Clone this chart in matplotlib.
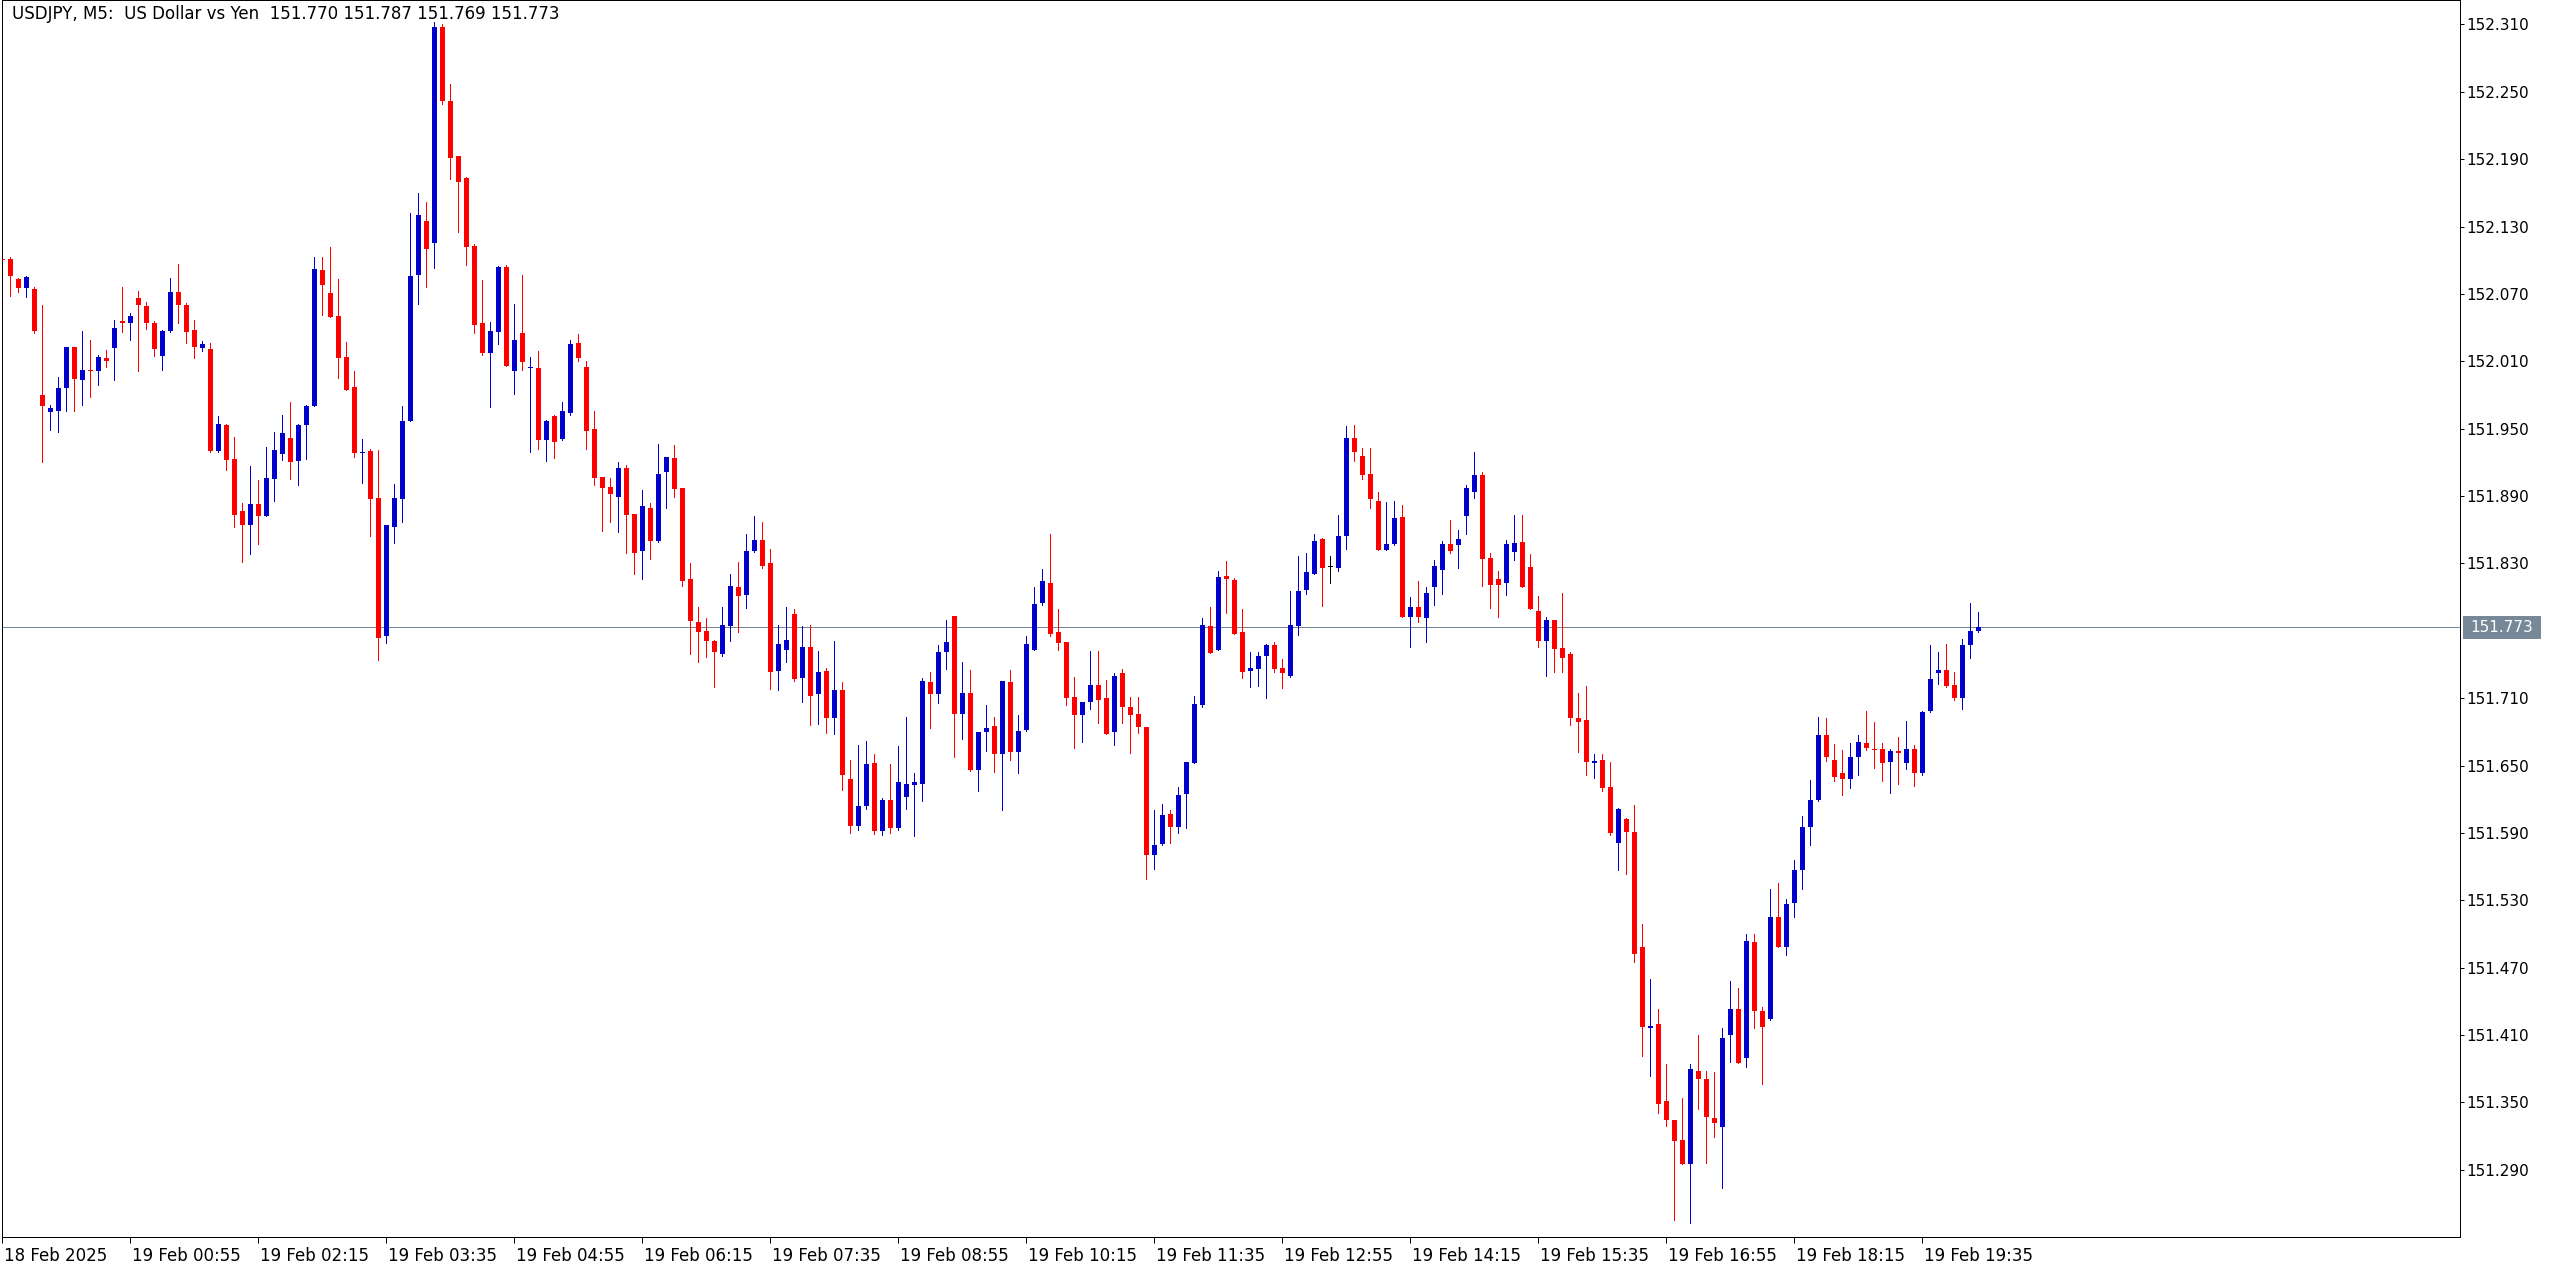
import numpy as np
import pandas as pd
import matplotlib
matplotlib.use("Agg")
import matplotlib.pyplot as plt
from matplotlib.transforms import offset_copy
from matplotlib.patches import Rectangle

title_text = "USDJPY, M5:  US Dollar vs Yen  151.770 151.787 151.769 151.773"
start_time = "2025-02-18 23:35"

opens = [
    152.101, 152.101, 152.083, 152.075, 152.074, 151.980, 151.965, 151.966, 151.986, 152.023,
    151.993, 152.002, 152.001, 152.013, 152.022, 152.046, 152.044, 152.066, 152.059, 152.044,
    152.015, 152.037, 152.072, 152.060, 152.038, 152.022, 152.021, 151.930, 151.953, 151.923,
    151.877, 151.864, 151.883, 151.872, 151.905, 151.927, 151.942, 151.921, 151.953, 151.970,
    152.091, 152.071, 152.050, 152.014, 151.987, 151.928, 151.930, 151.888, 151.765, 151.862,
    151.887, 151.957, 152.087, 152.135, 152.115, 152.308, 152.242, 152.193, 152.173, 152.113,
    152.044, 152.017, 152.036, 152.094, 152.001, 152.035, 152.004, 152.004, 151.940, 151.961,
    151.941, 151.964, 152.026, 152.005, 151.950, 151.907, 151.898, 151.889, 151.915, 151.874,
    151.841, 151.879, 151.850, 151.911, 151.924, 151.897, 151.816, 151.778, 151.770, 151.761,
    151.749, 151.774, 151.809, 151.802, 151.841, 151.851, 151.830, 151.734, 151.753, 151.785,
    151.728, 151.756, 151.714, 151.734, 151.692, 151.717, 151.638, 151.596, 151.614, 151.652,
    151.592, 151.619, 151.594, 151.622, 151.633, 151.634, 151.724, 151.714, 151.751, 151.783,
    151.696, 151.715, 151.646, 151.680, 151.685, 151.660, 151.724, 151.662, 151.682, 151.753,
    151.795, 151.813, 151.769, 151.760, 151.711, 151.695, 151.707, 151.722, 151.710, 151.680,
    151.732, 151.702, 151.696, 151.684, 151.570, 151.580, 151.607, 151.595, 151.625, 151.652,
    151.704, 151.774, 151.753, 151.819, 151.815, 151.769, 151.734, 151.736, 151.748, 151.757,
    151.737, 151.730, 151.774, 151.806, 151.821, 151.852, 151.827, 151.826, 151.854, 151.942,
    151.926, 151.910, 151.886, 151.842, 151.847, 151.871, 151.782, 151.791, 151.781, 151.809,
    151.824, 151.847, 151.846, 151.872, 151.894, 151.909, 151.835, 151.816, 151.813, 151.840,
    151.849, 151.827, 151.788, 151.761, 151.780, 151.755, 151.749, 151.692, 151.691, 151.652,
    151.655, 151.631, 151.581, 151.602, 151.591, 151.488, 151.416, 151.420, 151.351, 151.334,
    151.317, 151.295, 151.378, 151.371, 151.336, 151.328, 151.410, 151.433, 151.390, 151.493,
    151.431, 151.424, 151.515, 151.488, 151.528, 151.557, 151.595, 151.619, 151.677, 151.655,
    151.643, 151.638, 151.658, 151.670, 151.665, 151.665, 151.653, 151.663, 151.652, 151.665,
    151.643, 151.699, 151.732, 151.735, 151.722, 151.710, 151.757, 151.770,
]
highs = [
    152.103, 152.103, 152.084, 152.086, 152.076, 152.060, 151.971, 151.996, 152.023, 152.023,
    152.037, 152.029, 152.016, 152.020, 152.047, 152.076, 152.053, 152.073, 152.063, 152.046,
    152.038, 152.084, 152.097, 152.062, 152.047, 152.028, 152.026, 151.961, 151.954, 151.943,
    151.884, 151.917, 151.904, 151.934, 151.947, 151.962, 151.974, 151.954, 151.971, 152.103,
    152.103, 152.112, 152.083, 152.027, 152.001, 151.941, 151.932, 151.931, 151.864, 151.901,
    151.970, 152.142, 152.160, 152.152, 152.312, 152.310, 152.257, 152.193, 152.174, 152.114,
    152.082, 152.045, 152.095, 152.096, 152.061, 152.087, 152.014, 152.019, 151.958, 151.962,
    151.974, 152.029, 152.034, 152.010, 151.966, 151.907, 151.906, 151.920, 151.918, 151.874,
    151.895, 151.884, 151.936, 151.925, 151.935, 151.897, 151.830, 151.791, 151.781, 151.762,
    151.791, 151.821, 151.831, 151.856, 151.872, 151.867, 151.843, 151.775, 151.791, 151.789,
    151.774, 151.775, 151.752, 151.737, 151.761, 151.724, 151.655, 151.668, 151.672, 151.660,
    151.621, 151.651, 151.667, 151.693, 151.643, 151.728, 151.733, 151.757, 151.780, 151.783,
    151.742, 151.735, 151.680, 151.704, 151.693, 151.725, 151.735, 151.695, 151.765, 151.809,
    151.825, 151.856, 151.789, 151.760, 151.729, 151.707, 151.752, 151.752, 151.726, 151.732,
    151.736, 151.711, 151.711, 151.684, 151.610, 151.616, 151.610, 151.631, 151.653, 151.712,
    151.781, 151.791, 151.823, 151.832, 151.817, 151.789, 151.751, 151.751, 151.758, 151.760,
    151.745, 151.805, 151.837, 151.839, 151.856, 151.853, 151.837, 151.873, 151.952, 151.953,
    151.933, 151.933, 151.894, 151.885, 151.886, 151.882, 151.800, 151.814, 151.809, 151.833,
    151.850, 151.869, 151.860, 151.900, 151.929, 151.911, 151.839, 151.823, 151.851, 151.873,
    151.873, 151.838, 151.801, 151.782, 151.780, 151.804, 151.751, 151.715, 151.721, 151.660,
    151.660, 151.653, 151.612, 151.603, 151.615, 151.509, 151.460, 151.433, 151.384, 151.334,
    151.354, 151.384, 151.410, 151.378, 151.377, 151.416, 151.458, 151.452, 151.500, 151.500,
    151.435, 151.540, 151.545, 151.531, 151.566, 151.605, 151.637, 151.693, 151.692, 151.669,
    151.664, 151.670, 151.677, 151.699, 151.689, 151.670, 151.665, 151.675, 151.690, 151.668,
    151.699, 151.757, 151.751, 151.758, 151.733, 151.763, 151.795, 151.787,
]
lows = [
    152.099, 152.068, 152.072, 152.067, 152.035, 151.920, 151.949, 151.947, 151.966, 151.966,
    151.971, 151.978, 151.989, 152.005, 151.993, 152.036, 152.029, 152.001, 152.039, 152.015,
    152.002, 152.036, 152.044, 152.026, 152.013, 152.019, 151.929, 151.929, 151.913, 151.862,
    151.831, 151.838, 151.847, 151.872, 151.886, 151.922, 151.905, 151.900, 151.923, 151.970,
    152.051, 152.049, 151.995, 151.984, 151.925, 151.902, 151.854, 151.744, 151.759, 151.848,
    151.867, 151.957, 152.061, 152.076, 152.093, 152.239, 152.172, 152.125, 152.096, 152.035,
    152.016, 151.969, 152.025, 152.006, 151.981, 152.002, 151.929, 151.932, 151.921, 151.924,
    151.940, 151.962, 152.010, 151.932, 151.900, 151.859, 151.867, 151.858, 151.839, 151.821,
    151.816, 151.834, 151.849, 151.879, 151.889, 151.810, 151.749, 151.742, 151.747, 151.720,
    151.748, 151.761, 151.769, 151.790, 151.840, 151.826, 151.718, 151.717, 151.742, 151.725,
    151.707, 151.686, 151.687, 151.679, 151.678, 151.628, 151.590, 151.593, 151.611, 151.589,
    151.588, 151.590, 151.593, 151.611, 151.587, 151.618, 151.683, 151.706, 151.736, 151.658,
    151.674, 151.645, 151.627, 151.663, 151.644, 151.610, 151.655, 151.643, 151.681, 151.753,
    151.793, 151.765, 151.753, 151.704, 151.666, 151.671, 151.700, 151.688, 151.678, 151.668,
    151.688, 151.661, 151.679, 151.549, 151.558, 151.579, 151.581, 151.590, 151.594, 151.652,
    151.702, 151.750, 151.753, 151.786, 151.767, 151.728, 151.720, 151.721, 151.710, 151.733,
    151.719, 151.729, 151.766, 151.803, 151.821, 151.792, 151.813, 151.823, 151.843, 151.921,
    151.905, 151.879, 151.842, 151.842, 151.846, 151.782, 151.756, 151.778, 151.760, 151.793,
    151.803, 151.839, 151.826, 151.856, 151.888, 151.810, 151.790, 151.782, 151.802, 151.833,
    151.809, 151.789, 151.756, 151.730, 151.733, 151.733, 151.686, 151.662, 151.642, 151.639,
    151.627, 151.588, 151.557, 151.553, 151.475, 151.391, 151.374, 151.341, 151.329, 151.245,
    151.295, 151.243, 151.344, 151.296, 151.319, 151.274, 151.386, 151.385, 151.382, 151.416,
    151.366, 151.423, 151.488, 151.481, 151.515, 151.540, 151.579, 151.618, 151.654, 151.636,
    151.624, 151.630, 151.642, 151.664, 151.648, 151.636, 151.626, 151.634, 151.647, 151.632,
    151.642, 151.698, 151.723, 151.720, 151.708, 151.700, 151.746, 151.769,
]
closes = [
    152.100, 152.086, 152.075, 152.085, 152.037, 151.970, 151.968, 151.986, 152.023, 151.994,
    152.002, 152.001, 152.014, 152.010, 152.040, 152.044, 152.050, 152.060, 152.044, 152.021,
    152.037, 152.072, 152.060, 152.036, 152.023, 152.025, 151.930, 151.954, 151.922, 151.873,
    151.864, 151.883, 151.872, 151.906, 151.931, 151.946, 151.920, 151.953, 151.970, 152.092,
    152.078, 152.049, 152.013, 151.984, 151.928, 151.929, 151.887, 151.764, 151.864, 151.888,
    151.957, 152.086, 152.140, 152.110, 152.308, 152.242, 152.191, 152.170, 152.112, 152.042,
    152.017, 152.037, 152.094, 152.006, 152.029, 152.009, 152.005, 151.940, 151.957, 151.938,
    151.966, 152.025, 152.013, 151.948, 151.906, 151.897, 151.892, 151.915, 151.873, 151.839,
    151.881, 151.850, 151.910, 151.925, 151.896, 151.814, 151.779, 151.769, 151.761, 151.751,
    151.775, 151.810, 151.801, 151.841, 151.851, 151.828, 151.733, 151.758, 151.762, 151.727,
    151.756, 151.712, 151.733, 151.692, 151.717, 151.642, 151.596, 151.614, 151.651, 151.592,
    151.619, 151.594, 151.635, 151.634, 151.635, 151.725, 151.714, 151.751, 151.760, 151.696,
    151.715, 151.646, 151.680, 151.683, 151.660, 151.725, 151.662, 151.681, 151.758, 151.794,
    151.814, 151.767, 151.759, 151.710, 151.695, 151.707, 151.722, 151.708, 151.678, 151.730,
    151.702, 151.695, 151.684, 151.570, 151.579, 151.606, 151.595, 151.624, 151.653, 151.705,
    151.775, 151.750, 151.818, 151.816, 151.767, 151.733, 151.737, 151.748, 151.757, 151.736,
    151.732, 151.775, 151.805, 151.822, 151.850, 151.826, 151.827, 151.854, 151.942, 151.929,
    151.909, 151.887, 151.842, 151.847, 151.870, 151.782, 151.791, 151.782, 151.804, 151.828,
    151.847, 151.841, 151.852, 151.897, 151.909, 151.834, 151.811, 151.811, 151.847, 151.848,
    151.809, 151.789, 151.761, 151.780, 151.754, 151.746, 151.692, 151.689, 151.653, 151.654,
    151.630, 151.590, 151.611, 151.591, 151.482, 151.417, 151.418, 151.349, 151.334, 151.316,
    151.295, 151.380, 151.371, 151.337, 151.332, 151.407, 151.433, 151.385, 151.494, 151.431,
    151.417, 151.515, 151.488, 151.527, 151.557, 151.595, 151.619, 151.677, 151.658, 151.640,
    151.638, 151.658, 151.671, 151.666, 151.664, 151.652, 151.663, 151.661, 151.665, 151.643,
    151.698, 151.727, 151.735, 151.721, 151.710, 151.757, 151.770, 151.773,
]

price_ticks = [152.310, 152.250, 152.190, 152.130, 152.070, 152.010, 151.950, 151.890,
               151.830, 151.710, 151.650, 151.590, 151.530, 151.470, 151.410, 151.350, 151.290]

# MT5-ish colours
BULL = "#0000CD"
BEAR = "#FF0000"
FLAT = "#000000"
BID = "#778899"

W, H = 2556, 1270
PX = 0.72  # one pixel in points at dpi 100

plt.rcParams['font.family'] = ['DejaVu Sans']
fig = plt.figure(figsize=(W / 100, H / 100), dpi=100)
ax = fig.add_axes([2 / W, 33 / H, 2458 / W, 1237 / H])

o = np.array(opens)
h = np.array(highs)
l = np.array(lows)
c = np.array(closes)
x = np.arange(len(o))
times = pd.date_range(start_time, periods=len(o), freq="5min")

colors = np.where(c > o, BULL, np.where(c < o, BEAR, FLAT))
one_px = 1 / 1123.0
ax.vlines(x, l, h, colors=colors, linewidth=PX, antialiased=False, zorder=2)
ax.bar(x, np.maximum(np.abs(c - o), one_px), bottom=np.minimum(o, c), width=0.62,
       color=colors, linewidth=0, antialiased=False, zorder=3)

ax.axhline(c[-1], color=BID, linewidth=PX, zorder=1)

ax.set_xlim(-0.04, 307.2)
ax.set_ylim(151.2302, 152.3317)

# price axis on the right
ax.yaxis.tick_right()
ax.set_yticks(price_ticks)
ax.set_yticklabels([f"{p:.3f}" for p in price_ticks])
ax.tick_params(axis='y', direction='out', length=4 * PX, width=PX, pad=2,
               labelsize=11, colors='black')

# time axis, one label every 16 bars
tick_idx = list(range(0, len(o), 16))
tick_labels = [times[i].strftime("%d %b %Y") if i == 0 else times[i].strftime("%d %b %H:%M")
               for i in tick_idx]
ax.set_xticks(tick_idx)
ax.set_xticklabels(tick_labels)
ax.tick_params(axis='x', direction='out', length=6 * PX, width=PX, pad=3, labelsize=12)
for lab in ax.get_xticklabels():
    lab.set_horizontalalignment('left')
    lab.set_transform(offset_copy(lab.get_transform(), fig=fig, x=2, y=0, units='dots'))

for side in ['left', 'right', 'bottom', 'top']:
    ax.spines[side].set_linewidth(PX)
    ax.spines[side].set_color('black')

ax.text(10 / 2458, 1 - 14 / 1237, title_text, transform=ax.transAxes, fontsize=12,
        ha='left', va='center', color='black', zorder=5)

# current price label on the axis
fig.canvas.draw()
y_disp = ax.transData.transform((0, c[-1]))[1]
box_h = 23
rect = Rectangle((2463 / W, (y_disp - box_h / 2) / H), 78 / W, box_h / H,
                 transform=fig.transFigure, facecolor=BID, edgecolor='none', zorder=5)
fig.patches.append(rect)
fig.text(2502 / W, y_disp / H, f"{c[-1]:.3f}", color='white', fontsize=11,
         ha='center', va='center', zorder=6)

fig.savefig("out.png", dpi=100, facecolor='white')
